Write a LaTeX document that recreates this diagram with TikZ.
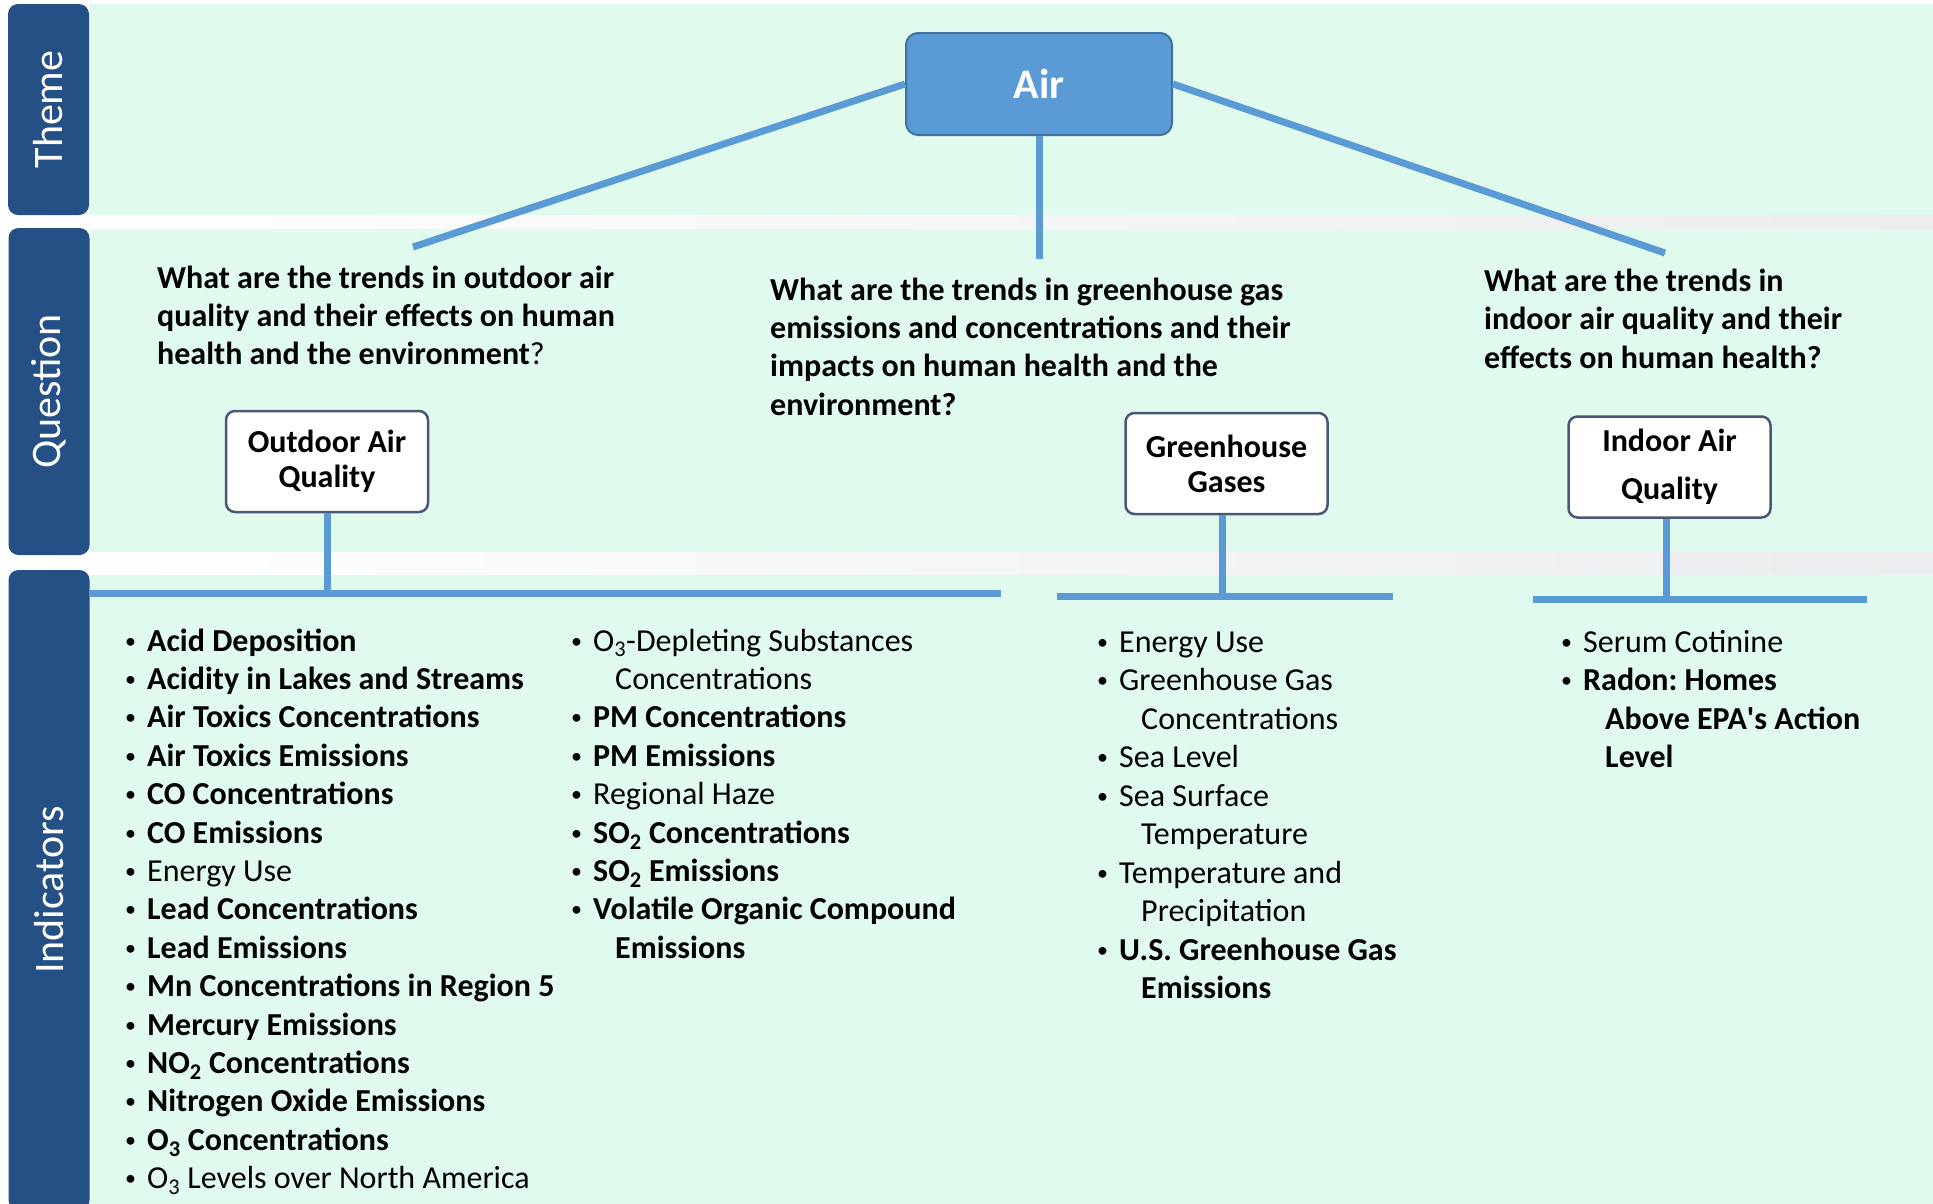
\documentclass[tikz,border=0pt]{standalone}
\usepackage{fontspec}
\setmainfont{Carlito}
\definecolor{mint}{RGB}{224,251,237}
\definecolor{band}{RGB}{36,80,134}
\definecolor{lineblue}{RGB}{91,155,213}
\definecolor{airborder}{RGB}{65,113,156}
\definecolor{boxborder}{RGB}{74,88,119}
\definecolor{gapgray}{RGB}{236,237,240}
\newcommand\bl{\makebox[27pt][l]{\hspace*{5pt}\raisebox{3pt}{\fontsize{22}{22}\selectfont•}}}
\newcommand\ci{\hspace*{49pt}}
\tikzset{
  conn/.style={draw=lineblue, line width=7pt},
  bandbox/.style={rectangle, rounded corners=10pt, fill=band, text=white, rotate=90,
    minimum height=81pt, inner sep=0pt, font=\fontsize{42}{50}\selectfont},
  catbox/.style={rectangle, rounded corners=9pt, draw=boxborder, line width=2.5pt, fill=white,
    minimum width=202pt, minimum height=101pt, align=center, inner sep=0pt,
    font=\bfseries\fontsize{32}{35}\selectfont},
  airbox/.style={rectangle, rounded corners=12pt, draw=airborder, line width=2pt, fill=lineblue,
    minimum width=266pt, minimum height=102pt, text=white, font=\bfseries\fontsize{42}{50}\selectfont},
  itm/.style={anchor=base west, inner sep=0pt, font=\frenchspacing\fontsize{32}{38.4}\selectfont},
  qtxt/.style={anchor=base west, inner sep=0pt, font=\bfseries\fontsize{32}{38.4}\selectfont},
}
\begin{document}
\begin{tikzpicture}[x=1pt,y=-1pt]
\useasboundingbox (0,0) rectangle (1933,1203);
\clip (0,0) rectangle (1933,1203);
% background and panels
\shade[left color=white, right color=gapgray] (0,0) rectangle (1933,1203);
\fill[white] (0,0) rectangle (1933,4);
\fill[mint] (89,4) rectangle (1933,215);
\fill[mint] (89,229) rectangle (1933,552);
\fill[mint] (89,575) rectangle (1933,1215);
% row labels
\node[bandbox, minimum width=211pt] (theme) at (48.5,109.5) {Theme};
\node[bandbox, minimum width=327pt] (question) at (49,391.5) {Question};
\node[bandbox, minimum width=640pt] (indicators) at (49,890) {Indicators};
% theme
\node[airbox] (air) at (1039,84) {Air};
\coordinate (q1top) at (413,247);
\coordinate (q2top) at (1039,259);
\coordinate (q3top) at (1665,253);
\draw[conn] (air.west) -- (q1top);
\draw[conn] (air.south) -- (q2top);
\draw[conn] (air.east) -- (q3top);
% questions
\foreach \t [count=\i from 0] in {What are the trends in outdoor air, quality and their effects on human, {health and the environment\mdseries?}}
  {\node[qtxt] (qa\i) at (157,288+38.4*\i) {\t};}
\foreach \t [count=\i from 0] in {What are the trends in greenhouse gas, emissions and concentrations and their, impacts on human health and the, environment?}
  {\node[qtxt] (qb\i) at (770,300+38.4*\i) {\t};}
\foreach \t [count=\i from 0] in {What are the trends in, indoor air quality and their, effects on human health?}
  {\node[qtxt] (qc\i) at (1484,291+38.6*\i) {\t};}
% category boxes
\node[catbox] (oaq) at (327,461.5) {Outdoor Air\\Quality};
\node[catbox] (ghg) at (1226.5,463.5) {Greenhouse\\Gases};
\node[catbox, font=\bfseries\fontsize{32}{48}\selectfont] (iaq) at (1669.5,467) {Indoor Air\\Quality};
% bars
\coordinate (b1w) at (89,593);
\coordinate (b1e) at (1001,593);
\coordinate (b2w) at (1057,596);
\coordinate (b2e) at (1393,596);
\coordinate (b2v) at (1222,596);
\coordinate (b3w) at (1533,599);
\coordinate (b3e) at (1867,599);
\coordinate (b3v) at (1666,599);
\draw[conn] (b1w) -- (b1e);
\draw[conn] (b2w) -- (b2e);
\draw[conn] (b3w) -- (b3e);
\draw[conn] (oaq.south) -- (oaq.south |- b1w);
\draw[conn] (ghg.south -| b2v) -- (b2v);
\draw[conn] (iaq.south -| b3v) -- (b3v);
% indicator lists
\foreach \t [count=\i from 0] in {
  {\bl\textbf{Acid Deposition}},
  {\bl\textbf{Acidity in Lakes and Streams}},
  {\bl\textbf{Air Toxics Concentrations}},
  {\bl\textbf{Air Toxics Emissions}},
  {\bl\textbf{CO Concentrations}},
  {\bl\textbf{CO Emissions}},
  {\bl Energy Use},
  {\bl\textbf{Lead Concentrations}},
  {\bl\textbf{Lead Emissions}},
  {\bl\textbf{Mn Concentrations in Region 5}},
  {\bl\textbf{Mercury Emissions}},
  {\bl\textbf{NO\textsubscript{2} Concentrations}},
  {\bl\textbf{Nitrogen Oxide Emissions}},
  {\bl\textbf{O\textsubscript{3} Concentrations}},
  {\bl O\textsubscript{3} Levels over North America}}
  {\node[itm] (la\i) at (120,651+38.4*\i) {\t};}
\foreach \t [count=\i from 0] in {
  {\bl O\textsubscript{3}-Depleting Substances},
  {\ci Concentrations},
  {\bl\textbf{PM Concentrations}},
  {\bl\textbf{PM Emissions}},
  {\bl Regional Haze},
  {\bl\textbf{SO\textsubscript{2} Concentrations}},
  {\bl\textbf{SO\textsubscript{2} Emissions}},
  {\bl\textbf{Volatile Organic Compound}},
  {\ci\textbf{Emissions}}}
  {\node[itm] (lb\i) at (566,651+38.4*\i) {\t};}
\foreach \t [count=\i from 0] in {
  {\bl Energy Use},
  {\bl Greenhouse Gas},
  {\ci Concentrations},
  {\bl Sea Level},
  {\bl Sea Surface},
  {\ci Temperature},
  {\bl Temperature and},
  {\ci Precipitation},
  {\bl\textbf{U.S. Greenhouse Gas}},
  {\ci\textbf{Emissions}}}
  {\node[itm] (lc\i) at (1092,652+38.5*\i) {\t};}
\foreach \t [count=\i from 0] in {
  {\bl Serum Cotinine},
  {\bl\textbf{Radon: Homes}},
  {\ci\textbf{Above EPA\textquotesingle s Action}},
  {\ci\textbf{Level}}}
  {\node[itm] (ld\i) at (1556,652+38.6*\i) {\t};}
\end{tikzpicture}
\end{document}
